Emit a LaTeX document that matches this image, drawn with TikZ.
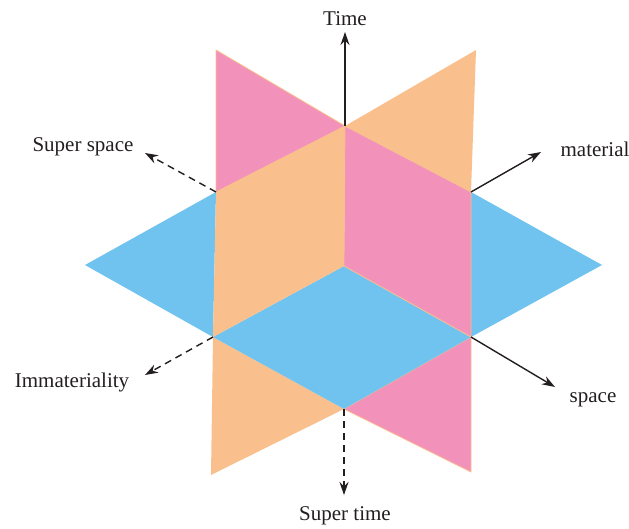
\documentclass[tikz,border=0pt]{standalone}
\usepackage{fontspec}
\setmainfont{Liberation Serif}
\usetikzlibrary{arrows.meta}
\definecolor{pinkp}{HTML}{F291B9}
\definecolor{orangep}{HTML}{F9C08E}
\definecolor{bluep}{HTML}{6FC3EE}
\definecolor{ink}{HTML}{231F20}
\tikzset{
  pinkface/.style={fill=pinkp,draw=orangep,line width=0.8pt,line join=round},
  orangeface/.style={fill=orangep,draw=none},
  blueface/.style={fill=bluep,draw=none},
  axis/.style={draw=ink,line width=1.4pt,-{Stealth[length=13pt,width=9pt]}},
  daxis/.style={axis,dash pattern=on 7pt off 5pt},
  lbl/.style={text=ink,font=\fontsize{21}{24}\selectfont,inner sep=0pt}
}
\begin{document}
\begin{tikzpicture}[x=1pt,y=-1pt]
\useasboundingbox (0,0) rectangle (629,528);
% key points
\coordinate (O) at (344,266);
\coordinate (T) at (345,126);
\coordinate (B) at (344,409);
\coordinate (UL) at (216,192);
\coordinate (LL) at (213,337);
\coordinate (UR) at (471,192);
\coordinate (LR) at (471,337);
\coordinate (BL) at (85,265);
\coordinate (BR) at (602,265);
\coordinate (OTR) at (476,50);
\coordinate (OBL) at (211,475);
\coordinate (PTL) at (216,50);
\coordinate (PBR) at (471,472);
% lower parts
\fill[orangeface] (LL) -- (B) -- (OBL) -- cycle;
\filldraw[pinkface] (B) -- (LR) -- (PBR) -- cycle;
% blue plane
\fill[blueface] (BL) -- (UL) -- (LL) -- cycle;
\fill[blueface] (UR) -- (BR) -- (LR) -- cycle;
\fill[blueface] (LL) -- (O) -- (LR) -- (B) -- cycle;
% upper parts
\filldraw[pinkface] (PTL) -- (T) -- (UL) -- cycle;
\fill[orangeface] (T) -- (OTR) -- (UR) -- cycle;
\fill[orangeface] (UL) -- (T) -- (O) -- (LL) -- cycle;
\filldraw[pinkface] (T) -- (UR) -- (LR) -- (O) -- cycle;
% arrow ends
\coordinate (eTime) at (345,32);
\coordinate (eSS) at (145,153);
\coordinate (eMat) at (541,152);
\coordinate (eImm) at (145,375);
\coordinate (eSpace) at (555,387);
\coordinate (eST) at (344,495);
\draw[axis] (T) -- (eTime);
\draw[daxis] (UL) -- (eSS);
\draw[axis] (UR) -- (eMat);
\draw[daxis] (LL) -- (eImm);
\draw[axis] (LR) -- (eSpace);
\draw[daxis] (B) -- (eST);
% labels
\node[lbl] (lTime) at (345,19) {Time};
\node[lbl] (lSS) at (83,147) {Super space};
\node[lbl] (lMat) at (595,149) {material};
\node[lbl] (lImm) at (72,382) {Immateriality};
\node[lbl] (lSpace) at (593,400) {space};
\node[lbl] (lST) at (345,516) {Super time};
\end{tikzpicture}
\end{document}
